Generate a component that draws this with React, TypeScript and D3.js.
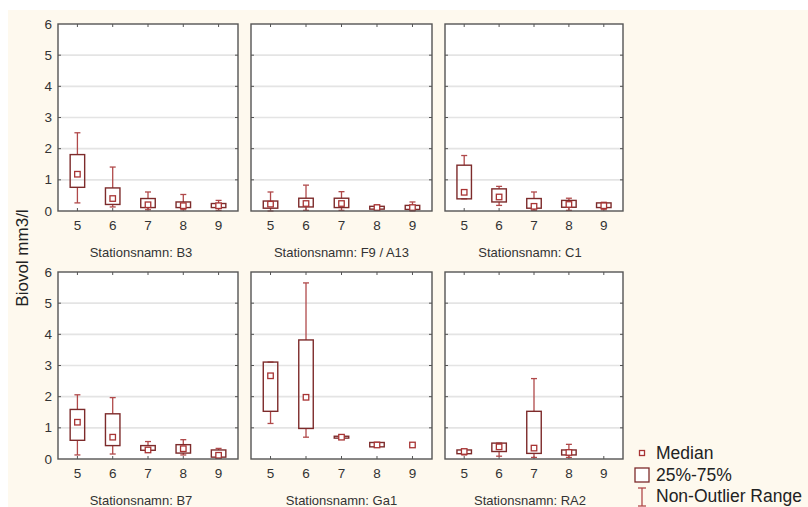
import * as d3 from 'd3';

// Months on the x axis, stations per panel (row by row)
const categories = [5, 6, 7, 8, 9];
const stations = ['B3', 'F9 / A13', 'C1', 'B7', 'Ga1', 'RA2'];
const yTicks = [0, 1, 2, 3, 4, 5, 6];

// per station, per month (null = no data)
const whiskerLow: (number | null)[][] = [
  [0.26, 0.13, 0.04, 0.04, 0.02],
  [0.0, 0.02, 0.02, 0.02, 0.0],
  [0.39, 0.18, 0.02, 0.02, 0.04],
  [0.13, 0.16, 0.26, 0.13, 0.02],
  [1.14, 0.7, 0.68, 0.39, null],
  [0.13, 0.09, 0.05, 0.05, null],
];
const q1: (number | null)[][] = [
  [0.76, 0.21, 0.11, 0.11, 0.11],
  [0.09, 0.13, 0.11, 0.06, 0.05],
  [0.39, 0.29, 0.09, 0.12, 0.11],
  [0.6, 0.43, 0.28, 0.19, 0.06],
  [1.53, 0.98, 0.67, 0.39, null],
  [0.17, 0.24, 0.18, 0.13, null],
];
const medians: (number | null)[][] = [
  [1.18, 0.4, 0.2, 0.17, 0.17],
  [0.22, 0.24, 0.24, 0.11, 0.11],
  [0.6, 0.45, 0.15, 0.21, 0.17],
  [1.18, 0.7, 0.29, 0.33, 0.12],
  [2.67, 1.98, 0.7, 0.45, 0.45],
  [0.24, 0.39, 0.35, 0.21, null],
];
const q3: (number | null)[][] = [
  [1.81, 0.74, 0.4, 0.29, 0.24],
  [0.32, 0.41, 0.41, 0.15, 0.18],
  [1.47, 0.71, 0.4, 0.34, 0.26],
  [1.59, 1.45, 0.43, 0.46, 0.29],
  [3.11, 3.82, 0.73, 0.53, null],
  [0.29, 0.51, 1.53, 0.29, null],
];
const whiskerHigh: (number | null)[][] = [
  [2.51, 1.41, 0.61, 0.53, 0.34],
  [0.61, 0.83, 0.62, 0.19, 0.29],
  [1.78, 0.79, 0.61, 0.41, 0.28],
  [2.06, 1.97, 0.56, 0.62, 0.34],
  [3.11, 5.65, 0.72, 0.53, null],
  [0.32, 0.51, 2.58, 0.47, null],
];

const W = 808;
const H = 507;
const FONT = '"Liberation Sans", Arial, sans-serif';
const BOX_STROKE = '#7d2b2b';
const WHISKER = '#b0494a';
const MEDIAN = '#a83434';
const FRAME = '#555';
const TEXT = '#333';

const cols = [
  { x0: 58, x1: 238, titleDx: -7 },
  { x0: 251, x1: 432, titleDx: 0 },
  { x0: 445, x1: 623, titleDx: -4 },
];
const rows = [
  { y0: 24, y1: 211 },
  { y0: 272, y1: 459 },
];

function Panel({ idx }: { idx: number }) {
  const col = cols[idx % 3];
  const row = rows[Math.floor(idx / 3)];
  const x = d3.scalePoint<number>().domain(categories).range([col.x0, col.x1]).padding(0.55);
  const y = d3.scaleLinear().domain([0, 6]).range([row.y1, row.y0]);
  const boxW = 14.5;
  const capW = 6;
  const med = 5.5;

  return (
    <g>
      <rect x={col.x0} y={row.y0} width={col.x1 - col.x0} height={row.y1 - row.y0} fill="#fff" />
      {yTicks.slice(1, -1).map((t) => (
        <line key={'g' + t} x1={col.x0} x2={col.x1} y1={y(t)} y2={y(t)} stroke="#e4e4e4" strokeWidth={1.6} />
      ))}
      {yTicks.slice(1, -1).map((t) => (
        <g key={'t' + t}>
          <line x1={col.x0} x2={col.x0 + 3} y1={y(t)} y2={y(t)} stroke={FRAME} strokeWidth={1} />
          <line x1={col.x1 - 3} x2={col.x1} y1={y(t)} y2={y(t)} stroke={FRAME} strokeWidth={1} />
        </g>
      ))}
      {categories.map((c) => (
        <g key={'xt' + c}>
          <line x1={x(c)} x2={x(c)} y1={row.y0} y2={row.y0 + 3} stroke={FRAME} strokeWidth={1} />
          <line x1={x(c)} x2={x(c)} y1={row.y1} y2={row.y1 - 3} stroke={FRAME} strokeWidth={1} />
          <text x={x(c)} y={row.y1 + 19} textAnchor="middle" fontSize={13.5} fill={TEXT} fontFamily={FONT}>
            {c}
          </text>
        </g>
      ))}
      {idx % 3 === 0 &&
        yTicks.map((t) => (
          <text key={'yl' + t} x={col.x0 - 6} y={y(t) + 4.5} textAnchor="end" fontSize={13.5} fill={TEXT} fontFamily={FONT}>
            {t}
          </text>
        ))}
      {categories.map((c, i) => {
        const cx = x(c) as number;
        const lo = whiskerLow[idx][i];
        const hi = whiskerHigh[idx][i];
        const a = q1[idx][i];
        const b = q3[idx][i];
        const m = medians[idx][i];
        return (
          <g key={'b' + c}>
            {lo != null && a != null && (
              <g>
                <line x1={cx} x2={cx} y1={y(a)} y2={y(lo)} stroke={WHISKER} strokeWidth={1.3} />
                <line x1={cx - capW / 2} x2={cx + capW / 2} y1={y(lo)} y2={y(lo)} stroke={WHISKER} strokeWidth={1.3} />
              </g>
            )}
            {hi != null && b != null && (
              <g>
                <line x1={cx} x2={cx} y1={y(b)} y2={y(hi)} stroke={WHISKER} strokeWidth={1.3} />
                <line x1={cx - capW / 2} x2={cx + capW / 2} y1={y(hi)} y2={y(hi)} stroke={WHISKER} strokeWidth={1.3} />
              </g>
            )}
            {a != null && b != null && (
              <rect
                x={cx - boxW / 2}
                y={y(b)}
                width={boxW}
                height={Math.max(y(a) - y(b), 1)}
                fill="none"
                stroke={BOX_STROKE}
                strokeWidth={1.4}
              />
            )}
            {m != null && (
              <rect x={cx - med / 2} y={y(m) - med / 2} width={med} height={med} fill="#fff" stroke={MEDIAN} strokeWidth={1.3} />
            )}
          </g>
        );
      })}
      <rect x={col.x0} y={row.y0} width={col.x1 - col.x0} height={row.y1 - row.y0} fill="none" stroke={FRAME} strokeWidth={1.4} />
      <text
        x={(col.x0 + col.x1) / 2 + col.titleDx}
        y={row.y1 + 46}
        textAnchor="middle"
        fontSize={13}
        fill={TEXT}
        fontFamily={FONT}
      >
        {'Stationsnamn: ' + stations[idx]}
      </text>
    </g>
  );
}

export default function App() {
  return (
    <svg width={W} height={H} style={{ position: 'absolute', left: 0, top: 0 }}>
      <rect x={0} y={0} width={W} height={H} fill="#fff" />
      <rect x={8} y={10} width={W - 8} height={H - 10} fill="#fef9ee" />
      {stations.map((_, i) => (
        <Panel key={i} idx={i} />
      ))}
      <text
        transform="translate(28,258) rotate(-90)"
        textAnchor="middle"
        fontSize={17}
        fill="#222"
        fontFamily={FONT}
      >
        Biovol mm3/l
      </text>
      {/* Legend */}
      <g fontFamily={FONT} fontSize={17.5} fill="#222">
        <rect x={639.5} y={450.5} width={5} height={5} fill="#fff" stroke={MEDIAN} strokeWidth={1.3} />
        <text x={656} y={459}>Median</text>
        <rect x={635} y={468} width={14} height={14} fill="#fff" stroke={BOX_STROKE} strokeWidth={1.3} />
        <text x={656} y={481}>25%-75%</text>
        <line x1={642} x2={642} y1={488} y2={506} stroke={WHISKER} strokeWidth={1.3} />
        <line x1={638} x2={646} y1={488} y2={488} stroke={WHISKER} strokeWidth={1.3} />
        <line x1={638} x2={646} y1={506} y2={506} stroke={WHISKER} strokeWidth={1.3} />
        <text x={656} y={502}>Non-Outlier Range</text>
      </g>
    </svg>
  );
}
